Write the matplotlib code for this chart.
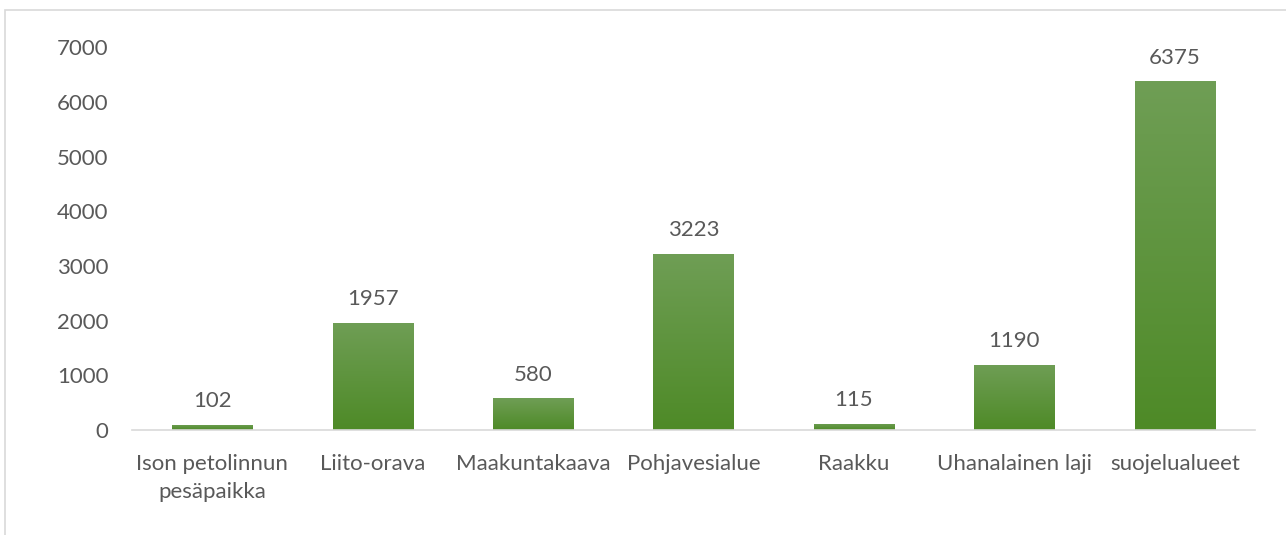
import numpy as np
import matplotlib.pyplot as plt
from matplotlib.colors import LinearSegmentedColormap
from matplotlib.patches import Rectangle

categories = ["Ison petolinnun\npesäpaikka", "Liito-orava", "Maakuntakaava",
              "Pohjavesialue", "Raakku", "Uhanalainen laji", "suojelualueet"]
values = [102, 1957, 580, 3223, 115, 1190, 6375]
yticks = [0, 1000, 2000, 3000, 4000, 5000, 6000, 7000]

plt.rcParams['font.family'] = ['Lato', 'DejaVu Sans']
textColor = "#595959"
fs = 16

fig = plt.figure(figsize=(12.86, 5.35), dpi=100)
ax = fig.add_axes([0.1026, 0.196, 0.8734, 0.716])

# light border of the chart area (cropped at right/bottom)
fig.patches.append(Rectangle((5 / 1286, -0.1), 1.2, 1 - 10 / 535 + 0.1,
                             transform=fig.transFigure, fill=False,
                             edgecolor="#d9d9d9", linewidth=1.2))

x = np.arange(len(categories))
bars = ax.bar(x, values, width=0.5, color="none", edgecolor="none")

# vertical gradient fill for each bar
grad = LinearSegmentedColormap.from_list("g", ["#4e8a27", "#6f9e55"])
gradImg = np.linspace(0, 1, 256).reshape(-1, 1)
for b in bars:
    x0, y0 = b.get_x(), b.get_y()
    w, h = b.get_width(), b.get_height()
    im = ax.imshow(gradImg, cmap=grad, aspect="auto", origin="lower",
                   extent=[x0, x0 + w, y0, y0 + h], zorder=2)
    im.set_clip_path(b)

for xi, v in zip(x, values):
    ax.text(xi, v + 250, str(v), ha="center", va="bottom",
            fontsize=fs, color=textColor)

ax.set_xlim(-0.5, len(categories) - 0.5)
ax.set_ylim(0, 7000)
ax.set_yticks(yticks)
ax.set_xticks(x)
ax.set_xticklabels(categories, fontsize=fs, color=textColor, linespacing=1.5)
ax.tick_params(axis="y", length=0, pad=17, labelsize=fs, labelcolor=textColor)
ax.tick_params(axis="x", length=0, pad=17)
for s in ["top", "right", "left"]:
    ax.spines[s].set_visible(False)
ax.spines["bottom"].set_color("#d9d9d9")
ax.spines["bottom"].set_linewidth(1.2)

fig.savefig("out.png", dpi=100)
